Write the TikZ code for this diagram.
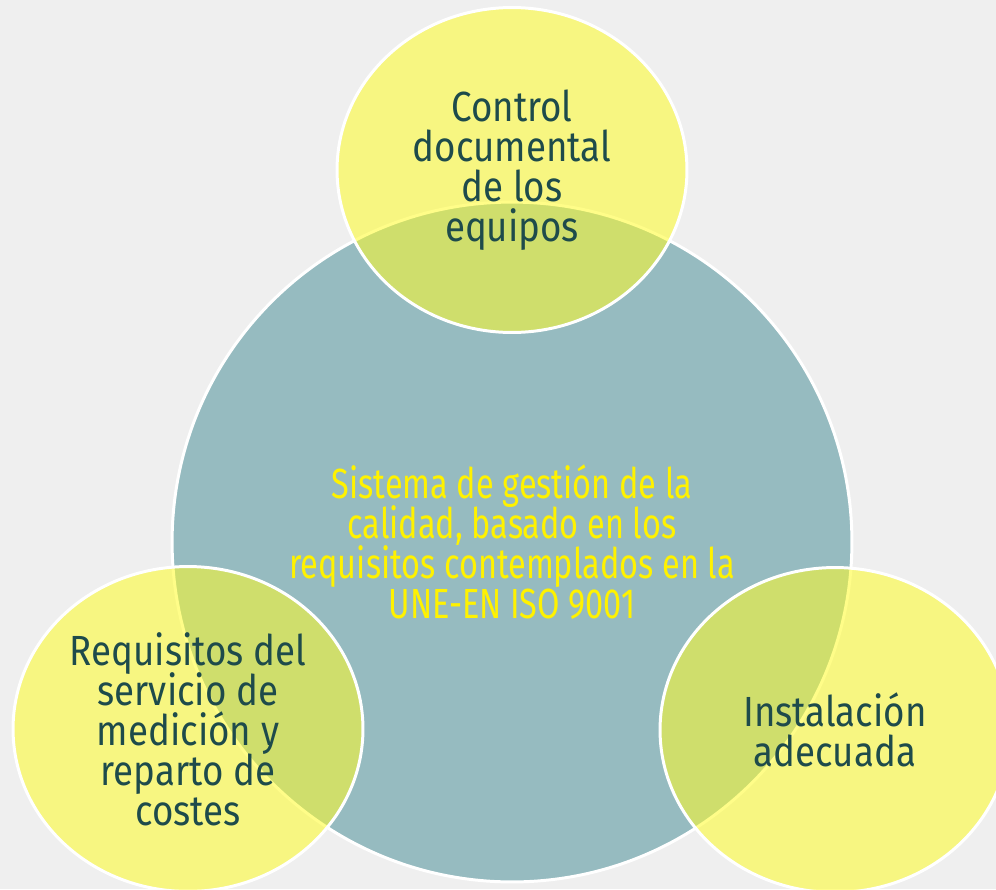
\documentclass[tikz,border=0pt]{standalone}
\usepackage{fontspec}
\setmainfont{Fira Sans}[FakeStretch=0.87]
\newfontfamily\angosta{Fira Sans}[FakeStretch=0.77]
\usetikzlibrary{shapes.geometric}
\definecolor{fondo}{RGB}{239,239,239}
\definecolor{azul}{RGB}{150,187,192}
\definecolor{amarillo}{RGB}{255,252,40}
\definecolor{oscuro}{RGB}{30,75,75}
\newcommand\apretado{\lineskiplimit=-20pt\relax}
\tikzset{
  grande/.style = {ellipse, fill = azul, draw = white, line width = 1.7pt, inner sep = 0pt,
    minimum width = 13.6cm, minimum height = 13.6cm, text = yellow, align = center,
    font = \angosta\fontsize{24}{22.7}\selectfont\apretado},
  chico/.style = {ellipse, fill = amarillo, fill opacity = .55, text opacity = 1,
    draw = white, line width = 1.7pt, inner sep = 0pt,
    minimum width = 7cm, minimum height = 6.5cm, text = oscuro, align = center},
}
\begin{document}
\begin{tikzpicture}[x = .02cm, y = -.02cm, font = \fontsize{24}{22.8}\selectfont\apretado]
\fill[fondo] (0,0) rectangle (996,889);
\useasboundingbox (0,0) rectangle (996,889);
\node (SGC) [grande] at (512,542) {Sistema de gestión de la\\calidad, basado en los\\requisitos contemplados en la\\UNE-EN ISO 9001};
\node (CD) [chico] at (512,170) {Control\\documental\\de los\\equipos};
\node (RS) [chico] at (188,729) {Requisitos del\\servicio de\\medición y\\reparto de\\costes};
\node (IA) [chico] at (835,730) {Instalación\\adecuada};
\end{tikzpicture}
\end{document}
